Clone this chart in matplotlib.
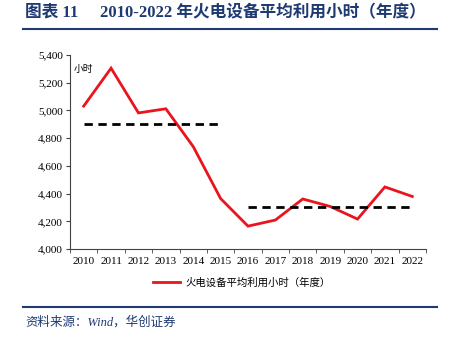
import numpy as np
import matplotlib
matplotlib.use("Agg")
import matplotlib.pyplot as plt
from matplotlib.lines import Line2D

plt.rcParams['font.family'] = ['Liberation Serif', 'Noto Sans CJK SC', 'DejaVu Sans']

# data
years = [str(y) for y in range(2010, 2023)]
hours = [5031, 5305, 4982, 5012, 4739, 4364, 4165, 4209, 4361, 4307, 4216, 4448, 4379]
avg_2010_2015 = 4900
avg_2016_2022 = 4300
series_label = "火电设备平均利用小时（年度）"
title_num = "图表 11"
title = "2010-2022 年火电设备平均利用小时（年度）"
source = "资料来源：Wind，华创证券"

navy = "#1F3A73"
red = "#E8141E"

fig = plt.figure(figsize=(4.52, 3.44), dpi=100)
ax = fig.add_axes([70 / 452, 1 - 249 / 344, 356 / 452, 194 / 344])

x = np.arange(len(years))
ax.plot(x, hours, color=red, lw=2, solid_joinstyle='miter')
ax.plot([0, 5], [avg_2010_2015] * 2, color='black', lw=2, ls=(0, (3, 2)))
ax.plot([6, 12], [avg_2016_2022] * 2, color='black', lw=2, ls=(0, (3, 2)))

ax.set_xlim(-0.5, len(years) - 0.5)
ax.set_ylim(4000, 5400)
ax.set_yticks(np.arange(4000, 5401, 200))
ax.set_yticklabels([f"{v:,}" for v in range(4000, 5401, 200)], fontsize=8)
ax.set_xticks(x)
ax.set_xticklabels(years, fontsize=8)
ax.set_xticks(np.arange(-0.5, len(years), 1), minor=True)
ax.tick_params(axis='x', which='major', length=0, pad=6)
ax.tick_params(axis='x', which='minor', length=3, direction='out', color='#444444')
ax.tick_params(axis='y', length=3, direction='out', color='#444444', pad=2)

for s in ['top', 'right']:
    ax.spines[s].set_visible(False)
for s in ['left', 'bottom']:
    ax.spines[s].set_color('#444444')
    ax.spines[s].set_linewidth(0.8)

ax.text(0.01, 0.93, "小时", transform=ax.transAxes, fontsize=7,
        family=['Noto Sans CJK SC'], va='center', ha='left')

handle = Line2D([0], [0], color=red, lw=2)
fig.legend([handle], [series_label], loc='center', bbox_to_anchor=(242 / 452, 1 - 283 / 344),
           frameon=False, prop={'family': 'Noto Sans CJK SC', 'size': 7.5},
           handlelength=2.6, handletextpad=0.5)

# title and frame lines
fig.text(25 / 452, 1 - 13 / 344, title_num, fontsize=12, fontweight='bold', color=navy,
         va='center', ha='left')
fig.text(100 / 452, 1 - 13 / 344, title, fontsize=12, fontweight='bold', color=navy,
         va='center', ha='left')
fig.add_artist(Line2D([23 / 452, 437 / 452], [1 - 29 / 344] * 2, color=navy, lw=1.5))
fig.add_artist(Line2D([23 / 452, 437 / 452], [1 - 307 / 344] * 2, color=navy, lw=1.5))
fig.text(25 / 452, 1 - 322 / 344, source, fontsize=9, style='italic', color=navy,
         va='center', ha='left')

fig.savefig("out.png", dpi=100)
